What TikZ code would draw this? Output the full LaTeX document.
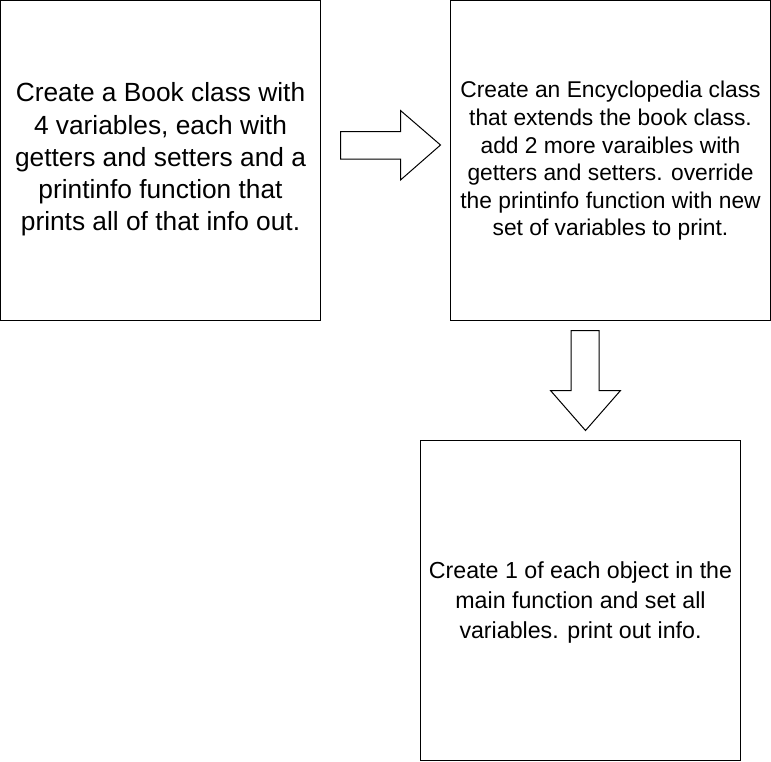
\documentclass[tikz,border=0pt]{standalone}
\usepackage{fontspec}
\setmainfont{Liberation Sans}
\begin{document}
\begin{tikzpicture}[x=1pt,y=-1pt,
  card/.style={draw=black,line width=1pt,fill=white},
  blockarrow/.style={draw=black,line width=1pt,fill=white,line join=miter},
  lbl/.style={align=center,inner sep=0pt,text=black}]
\useasboundingbox (0,0) rectangle (771,761);
\draw[card] (0.5,0.5) rectangle (320.5,320.5);
\draw[card] (450.5,0.5) rectangle (770.5,320.5);
\draw[card] (420.5,440.5) rectangle (740.5,760.5);
\node[lbl,font=\fontsize{26.3}{32.3}\selectfont] (book) at (160.5,159.5) {Create a Book class with\\4 variables, each with\\getters and setters and a\\printinfo function that\\prints all of that info out.};
\node[lbl,font=\fontsize{22.8}{27.6}\selectfont] (ency) at (610.5,161) {Create an Encyclopedia class\\that extends the book class.\\add 2 more varaibles with\\getters and setters. override\\the printinfo function with new\\set of variables to print.};
\node[lbl,font=\fontsize{23.2}{30}\selectfont] (main) at (580.5,602) {Create 1 of each object in the\\main function and set all\\variables. print out info.};
\draw[blockarrow] (340.5,131.5) -- (400.5,131.5) -- (400.5,110.5) -- (440.5,145) -- (400.5,180) -- (400.5,159) -- (340.5,159) -- cycle;
\draw[blockarrow] (571,330.5) -- (599,330.5) -- (599,390.5) -- (620.5,390.5) -- (585.5,430.5) -- (550.5,390.5) -- (571,390.5) -- cycle;
\end{tikzpicture}
\end{document}
